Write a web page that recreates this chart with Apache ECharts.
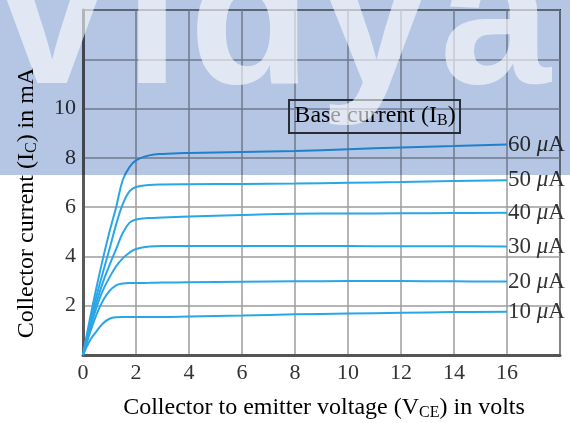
<!DOCTYPE html>
<html>
<head>
<meta charset="utf-8">
<script src="https://cdn.jsdelivr.net/npm/echarts@6/dist/echarts.min.js"></script>
<style>html,body{margin:0;padding:0;background:#fff;}#c{width:570px;height:423px;}</style>
</head>
<body>
<div id="c"></div>
<script>
// Collector-emitter voltage (V) sample points
const voltages = [0, 0.25, 0.5, 0.75, 1, 1.25, 1.5, 1.75, 2, 2.5, 3, 4, 6, 8, 10, 12, 14, 16];
// Collector current (mA) for each base current
const ib10 = [0, 0.57, 0.95, 1.28, 1.47, 1.53, 1.54, 1.54, 1.54, 1.54, 1.54, 1.56, 1.6, 1.65, 1.68, 1.71, 1.74, 1.76];
const ib20 = [0, 0.85, 1.62, 2.2, 2.6, 2.83, 2.9, 2.92, 2.92, 2.93, 2.94, 2.95, 2.97, 2.99, 3.0, 3.0, 2.99, 2.98];
const ib30 = [0, 1.0, 1.9, 2.62, 3.15, 3.6, 3.92, 4.15, 4.3, 4.4, 4.42, 4.42, 4.42, 4.42, 4.42, 4.41, 4.41, 4.40];
const ib40 = [0, 1.15, 2.1, 2.95, 3.65, 4.3, 4.95, 5.36, 5.5, 5.56, 5.58, 5.62, 5.68, 5.73, 5.74, 5.75, 5.76, 5.77];
const ib50 = [0, 1.25, 2.35, 3.35, 4.3, 5.3, 6.12, 6.64, 6.82, 6.9, 6.92, 6.93, 6.94, 6.96, 6.99, 7.02, 7.06, 7.09];
const ib60 = [0, 1.4, 2.7, 3.9, 5.0, 6.0, 7.1, 7.62, 7.9, 8.1, 8.16, 8.2, 8.24, 8.28, 8.35, 8.42, 8.48, 8.54];
const seriesNames = ['10', '20', '30', '40', '50', '60'];
const seriesValues = [ib10, ib20, ib30, ib40, ib50, ib60];
// Tick labels
const xTickLabels = [0, 2, 4, 6, 8, 10, 12, 14, 16];
const yTickLabels = [2, 4, 6, 8, 10];

const serif = 'Liberation Serif';
const lineColor = '#2aa6e6';
const chart = echarts.init(document.getElementById('c'), null, {renderer: 'canvas'});

const series = seriesValues.map((vals, i) => ({
  type: 'line',
  name: seriesNames[i] + ' μA',
  data: voltages.map((v, k) => [v, vals[k]]),
  smooth: 0.4,
  showSymbol: false,
  lineStyle: {color: lineColor, width: 2},
  itemStyle: {color: lineColor},
  z: 3,
  endLabel: {
    show: true,
    distance: 1,
    formatter: '{n|' + seriesNames[i] + ' }{m|μ}{n|A}',
    rich: {
      n: {fontFamily: serif, fontSize: 23, color: '#333'},
      m: {fontFamily: serif, fontSize: 23, color: '#333', fontStyle: 'italic'}
    }
  }
}));

const letters = [
  {t: 'V', x: 52}, {t: 'i', x: 152}, {t: 'd', x: 250}, {t: 'y', x: 375}, {t: 'a', x: 495}
];

const sub = {fontFamily: serif, fontSize: 16, color: '#333', verticalAlign: 'bottom', padding: [9, 0, 0, 0]};
const main = {fontFamily: serif, fontSize: 24, color: '#333'};

chart.setOption({
  animation: false,
  backgroundColor: '#ffffff',
  grid: {left: 83, right: 10, top: 10, bottom: 68, show: true, borderColor: '#3a3a3a', borderWidth: 2, containLabel: false},
  xAxis: {
    type: 'value', min: 0, max: 18, interval: 2,
    axisLine: {show: true, onZero: false, lineStyle: {color: '#555', width: 3}},
    axisTick: {show: false},
    splitLine: {show: true, lineStyle: {color: '#9c9c9c', width: 1.5}},
    axisLabel: {
      margin: 7, fontFamily: serif, fontSize: 22, color: '#333',
      formatter: v => (xTickLabels.indexOf(v) >= 0 ? String(v) : '')
    }
  },
  yAxis: {
    type: 'value', min: 0, max: 14, interval: 2,
    axisLine: {show: true, onZero: false, lineStyle: {color: '#5a5a5a', width: 3}},
    axisTick: {show: false},
    splitLine: {show: true, lineStyle: {color: '#9c9c9c', width: 1.5}},
    axisLabel: {
      margin: 7, fontFamily: serif, fontSize: 22, color: '#333',
      formatter: v => (yTickLabels.indexOf(v) >= 0 ? String(v) : '')
    }
  },
  series: series,
  graphic: [
    {
      type: 'text', x: 324, y: 408, z: 50, silent: true,
      style: {
        text: '{a|Collector to emitter voltage (V}{s|CE}{a|) in volts}',
        align: 'center', verticalAlign: 'middle',
        rich: {a: main, s: sub}
      }
    },
    {
      type: 'text', x: 27, y: 203, rotation: Math.PI / 2, z: 50, silent: true,
      style: {
        text: '{a|Collector current (I}{s|C}{a|) in mA}',
        align: 'center', verticalAlign: 'middle',
        rich: {a: main, s: sub}
      }
    },
    {
      type: 'rect', z: 50, silent: true,
      shape: {x: 289, y: 100, width: 171, height: 33},
      style: {fill: 'none', stroke: '#3a3a3a', lineWidth: 2}
    },
    {
      type: 'text', x: 375, y: 116, z: 50, silent: true,
      style: {
        text: '{a|Base current (I}{s|B}{a|)}',
        align: 'center', verticalAlign: 'middle',
        rich: {a: main, s: sub}
      }
    },
    {
      type: 'rect', z: 100, silent: true,
      shape: {x: 0, y: 0, width: 570, height: 175},
      style: {fill: '#b4c6e4', blend: 'multiply'}
    },
    {
      type: 'group', z: 101, silent: true,
      clipPath: {type: 'rect', shape: {x: 0, y: 0, width: 570, height: 175}},
      children: letters.map(l => ({
        type: 'text', x: l.x, y: -72, z: 101, silent: true,
        style: {
          text: l.t, align: 'center', verticalAlign: 'top',
          fontFamily: 'Liberation Sans', fontWeight: 'bold', fontSize: 200,
          fill: 'rgba(255,255,255,0.6)', shadowBlur: 12, shadowColor: 'rgba(255,255,255,0.6)'
        }
      }))
    }
  ]
});
</script>
</body>
</html>
